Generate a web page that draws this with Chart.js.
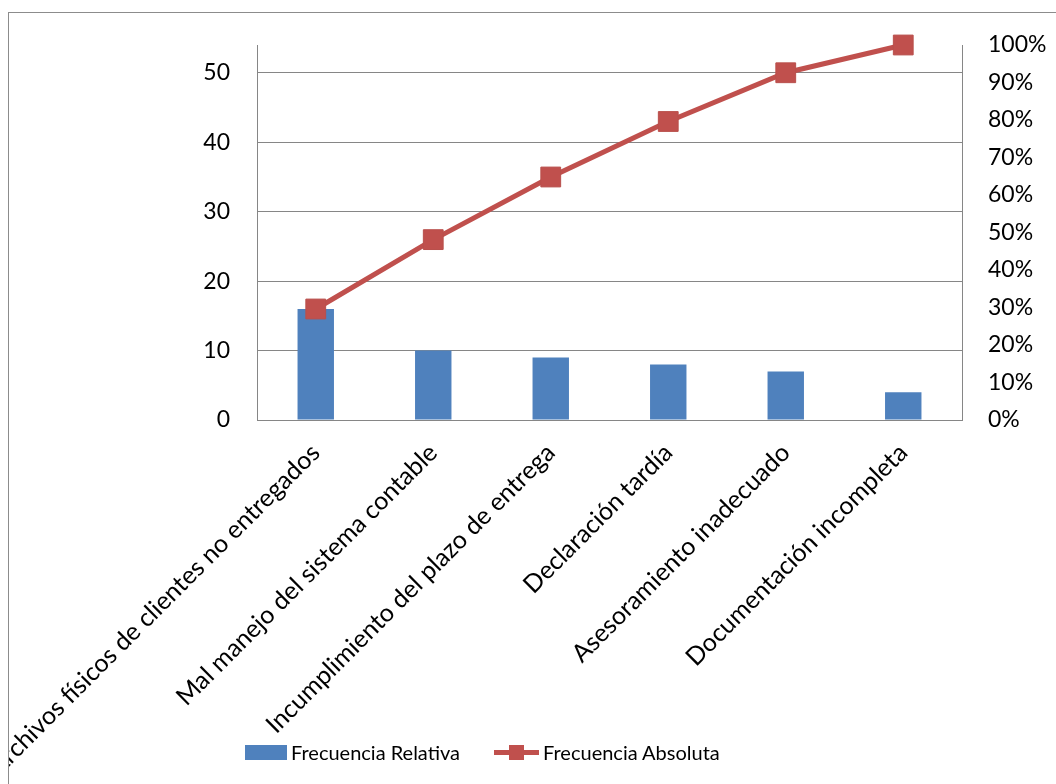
<!DOCTYPE html>
<html lang="es">
<head>
<meta charset="utf-8">
<title>Diagrama de Pareto</title>
<script src="https://cdn.jsdelivr.net/npm/chart.js@4/dist/chart.umd.min.js"></script>
<style>
  html, body { margin: 0; padding: 0; background: #fff; overflow: hidden; }
  body { width: 1056px; height: 784px; position: relative; font-family: Lato, "Open Sans", sans-serif; }
  /* marco del gráfico, se sale por la derecha y por abajo */
  #marco {
    position: absolute; left: 8px; top: 12px;
    width: 1060px; height: 790px;
    border: 1px solid #8c8c8c; overflow: hidden;
  }
  #marco canvas { position: absolute; left: 0; top: 0; }
  #leyenda {
    position: absolute; left: 245px; top: 738px; height: 28px;
    display: flex; align-items: center; font-size: 20px; color: #000;
  }
  .ley-item { display: flex; align-items: center; }
  .caja { width: 42px; height: 15px; background: #4F81BD; margin-right: 4px; }
  .linea { position: relative; width: 45px; height: 5px; background: #C0504D; margin-right: 4px; margin-left: 34px; }
  .linea::after {
    content: ''; position: absolute; left: 15px; top: -5px;
    width: 15px; height: 15px; background: #C0504D;
  }
</style>
</head>
<body>
<div id="marco">
  <canvas id="grafico" width="1047" height="771"></canvas>
</div>
<div id="leyenda">
  <div class="ley-item"><span class="caja"></span><span>Frecuencia Relativa</span></div>
  <div class="ley-item"><span class="linea"></span><span>Frecuencia Absoluta</span></div>
</div>

<script>
/* ===== Datos ===== */
const causas = [
  'Archivos físicos de clientes no entregados',
  'Mal manejo del sistema contable',
  'Incumplimiento del plazo de entrega',
  'Declaración tardía',
  'Asesoramiento inadecuado',
  'Documentación incompleta',
];
const frecuencia = [16, 10, 9, 8, 7, 4];
const acumulado = [29.6, 48.1, 64.8, 79.6, 92.6, 100];   // % acumulado

const ticksIzq = [0, 10, 20, 30, 40, 50];
const ticksDer = [0, 10, 20, 30, 40, 50, 60, 70, 80, 90, 100];

const AZUL = '#4F81BD';
const ROJO = '#C0504D';
const GRIS = '#868686';
const FUENTE_EJE = { family: 'Lato', size: 23 };
const FUENTE_CAT = { family: 'Lato', size: 25 };

/* ===== Área de trazado fija ===== */
const AREA = { left: 248, right: 953, top: 32, bottom: 407 };

// los ejes verticales no reservan margen propio arriba/abajo
function sinMargenVertical(s) {
  s.paddingTop = 0;
  s.paddingBottom = 0;
}

const ctx = document.getElementById('grafico');
new Chart(ctx, {
  data: {
    labels: causas,
    datasets: [
      {
        type: 'line',
        label: 'Frecuencia Absoluta',
        data: acumulado,
        yAxisID: 'yDer',
        borderColor: ROJO,
        backgroundColor: ROJO,
        borderWidth: 5,
        pointStyle: 'rect',
        pointRadius: 14,
        pointHoverRadius: 14,
        pointBorderWidth: 1,
        pointBorderColor: '#B9504C',
        tension: 0,
        clip: false,
        order: 0,
      },
      {
        type: 'bar',
        label: 'Frecuencia Relativa',
        data: frecuencia,
        yAxisID: 'yIzq',
        backgroundColor: AZUL,
        borderWidth: 0,
        barPercentage: 0.31,
        categoryPercentage: 1,
        order: 1,
      },
    ],
  },
  options: {
    responsive: false,
    animation: false,
    events: [],
    layout: { padding: { top: AREA.top, left: 0, right: 0, bottom: 0 } },
    plugins: { legend: { display: false }, tooltip: { enabled: false } },
    scales: {
      x: {
        grid: { display: false },
        border: { display: true, color: GRIS, width: 1 },
        ticks: {
          color: '#000', font: FUENTE_CAT, minRotation: 45, maxRotation: 45,
          padding: 10, autoSkip: false,
        },
        afterFit: s => {
          s.height = 771 - AREA.bottom;
          s.paddingLeft = 0;
          s.paddingRight = 0;
        },
      },
      yIzq: {
        position: 'left',
        min: 0, max: 54,
        grid: { color: GRIS, lineWidth: 1, drawTicks: false },
        border: { display: true, color: GRIS, width: 1 },
        afterBuildTicks: s => { s.ticks = ticksIzq.map(v => ({ value: v })); },
        ticks: { color: '#000', font: FUENTE_EJE, padding: 27 },
        afterFit: s => { s.width = AREA.left; sinMargenVertical(s); },
      },
      yDer: {
        position: 'right',
        min: 0, max: 100,
        grid: { display: false, drawTicks: false },
        border: { display: true, color: GRIS, width: 1 },
        afterBuildTicks: s => { s.ticks = ticksDer.map(v => ({ value: v })); },
        ticks: { color: '#000', font: FUENTE_EJE, padding: 26, callback: v => v + '%' },
        afterFit: s => { s.width = 1047 - AREA.right; sinMargenVertical(s); },
      },
    },
  },
});
</script>
</body>
</html>
